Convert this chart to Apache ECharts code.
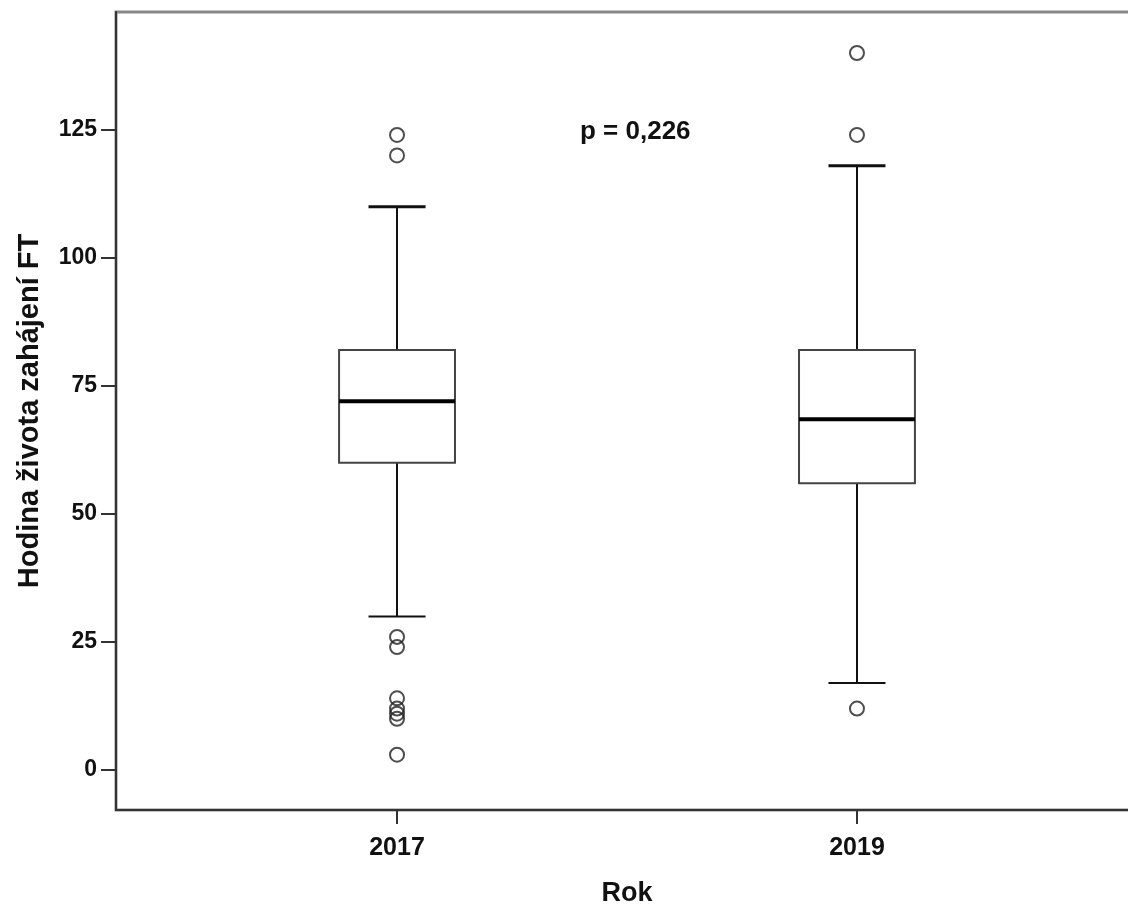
<!DOCTYPE html>
<html>
<head>
<meta charset="utf-8">
<script src="https://cdn.jsdelivr.net/npm/echarts@6/dist/echarts.min.js"></script>
<style>
html,body{margin:0;padding:0;background:#fff;}
#chart{width:1128px;height:909px;}
</style>
</head>
<body>
<div id="chart"></div>
<script>
// ---- data ----
const categories = ['2017', '2019'];
// [lowerWhisker, Q1, median, Q3, upperWhisker]
const boxStats2017 = [30, 60, 72, 82, 110];
const boxStats2019 = [17, 56, 68.5, 82, 118];
const outliers2017 = [124, 120, 26, 24, 14, 12, 11, 10, 3];
const outliers2019 = [140, 124, 12];
const yTickValues = [0, 25, 50, 75, 100, 125];
const pText = 'p = 0,226';
const yName = 'Hodina života zahájení FT';
const xName = 'Rok';

const boxData = [
  [0].concat(boxStats2017),
  [1].concat(boxStats2019)
];
const outlierData = []
  .concat(outliers2017.map(v => [0, v]))
  .concat(outliers2019.map(v => [1, v]));

const FONT = '"Liberation Sans", Arial, sans-serif';
const chart = echarts.init(document.getElementById('chart'), null, {renderer: 'canvas'});

function renderBox(params, api) {
  const x = api.value(0);
  const lw = api.value(1), q1 = api.value(2), med = api.value(3), q3 = api.value(4), uw = api.value(5);
  const halfBox = api.size([0.252, 0])[0] / 2;
  const halfCap = api.size([0.124, 0])[0] / 2;
  const pL = api.coord([x, lw]), pQ1 = api.coord([x, q1]), pM = api.coord([x, med]);
  const pQ3 = api.coord([x, q3]), pU = api.coord([x, uw]);
  const cx = pM[0];
  const whisk = {stroke: '#111', lineWidth: 2};
  return {
    type: 'group',
    children: [
      {type: 'line', shape: {x1: cx, y1: pU[1], x2: cx, y2: pQ3[1]}, style: whisk},
      {type: 'line', shape: {x1: cx, y1: pQ1[1], x2: cx, y2: pL[1]}, style: whisk},
      {type: 'line', shape: {x1: cx - halfCap, y1: pU[1], x2: cx + halfCap, y2: pU[1]}, style: {stroke: '#111', lineWidth: 3}},
      {type: 'line', shape: {x1: cx - halfCap, y1: pL[1], x2: cx + halfCap, y2: pL[1]}, style: whisk},
      {type: 'rect', shape: {x: cx - halfBox, y: pQ3[1], width: halfBox * 2, height: pQ1[1] - pQ3[1]},
        style: {fill: '#fff', stroke: '#444', lineWidth: 2}},
      {type: 'line', shape: {x1: cx - halfBox, y1: pM[1], x2: cx + halfBox, y2: pM[1]}, style: {stroke: '#000', lineWidth: 4}}
    ]
  };
}

chart.setOption({
  animation: false,
  backgroundColor: '#fff',
  grid: {
    left: 116, right: -10, top: 12, bottom: 99,
    containLabel: false, outerBoundsMode: 'none',
    show: true, borderColor: '#888', borderWidth: 3, backgroundColor: 'transparent'
  },
  xAxis: {
    type: 'value',
    min: -0.611, max: 1.611,
    name: xName, nameLocation: 'middle', nameGap: 70,
    nameTextStyle: {fontFamily: FONT, fontWeight: 'bold', fontSize: 27, color: '#111'},
    axisLine: {show: true, onZero: false, lineStyle: {color: '#333', width: 2}},
    axisTick: {show: true, customValues: [0, 1], length: 14, lineStyle: {color: '#333', width: 2}},
    axisLabel: {
      customValues: [0, 1], margin: 26,
      formatter: v => categories[Math.round(v)] || '',
      fontFamily: FONT, fontWeight: 'bold', fontSize: 25, color: '#111'
    },
    splitLine: {show: false}
  },
  yAxis: {
    type: 'value',
    min: -7.8, max: 148,
    name: yName, nameLocation: 'middle', nameGap: 72, nameRotate: 90,
    nameTextStyle: {fontFamily: FONT, fontWeight: 'bold', fontSize: 29, color: '#111'},
    axisLine: {show: true, onZero: false, lineStyle: {color: '#333', width: 2}},
    axisTick: {show: true, customValues: yTickValues, length: 15, lineStyle: {color: '#333', width: 2}},
    axisLabel: {
      customValues: yTickValues, margin: 19,
      fontFamily: FONT, fontWeight: 'bold', fontSize: 23, color: '#111'
    },
    splitLine: {show: false}
  },
  graphic: [{
    type: 'text', left: 580, top: 119,
    style: {text: pText, font: 'bold 26px ' + FONT, fill: '#111'}
  }],
  series: [
    {
      type: 'custom',
      renderItem: renderBox,
      encode: {x: 0, y: [1, 2, 3, 4, 5]},
      data: boxData,
      z: 2
    },
    {
      type: 'scatter',
      symbol: 'circle',
      symbolSize: 14,
      itemStyle: {color: 'rgba(0,0,0,0)', borderColor: '#222', borderWidth: 2},
      data: outlierData,
      z: 3
    }
  ]
});
</script>
</body>
</html>
